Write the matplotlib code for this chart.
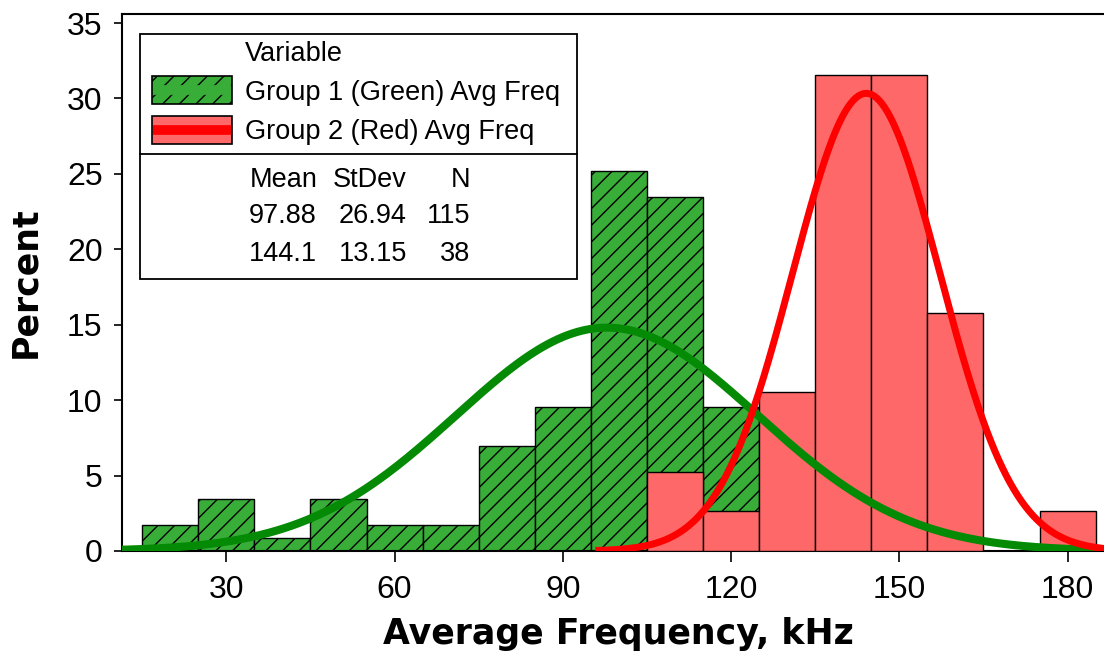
import numpy as np
import matplotlib
matplotlib.use('Agg')
import matplotlib.pyplot as plt
from matplotlib.patches import Rectangle
from matplotlib.lines import Line2D

# histogram bins (width 10 kHz), values in percent
bin_width = 10
green_left = [15, 25, 35, 45, 55, 65, 75, 85, 95, 105, 115]
green_pct = [1.74, 3.48, 0.87, 3.48, 1.74, 1.74, 6.96, 9.57, 25.22, 23.48, 9.57]
red_left = [105, 115, 125, 135, 145, 155, 175]
red_pct = [5.26, 2.63, 10.53, 31.58, 31.58, 15.79, 2.63]

# normal fit parameters
green_mean, green_sd, green_n = 97.88, 26.94, 115
red_mean, red_sd, red_n = 144.1, 13.15, 38

series_names = ['Group 1 (Green) Avg Freq', 'Group 2 (Red) Avg Freq']
x_ticks = [30, 60, 90, 120, 150, 180]
y_ticks = [0, 5, 10, 15, 20, 25, 30, 35]

green_face = '#38ae38'
red_face = '#ff6868'
green_line = '#058a05'
red_line = '#ff0000'

plt.rcParams['hatch.linewidth'] = 1.0
txt_font = ['Liberation Sans', 'DejaVu Sans']

fig = plt.figure(figsize=(11.04, 6.56), dpi=100)
ax = fig.add_axes([122/1104, 1 - 551/656, 1 - 122/1104, (551 - 14)/656])

ax.bar(green_left, green_pct, width=bin_width, align='edge', color=green_face,
       edgecolor='black', linewidth=1, hatch='//', zorder=2)
ax.bar(red_left, red_pct, width=bin_width, align='edge', color=red_face,
       edgecolor='black', linewidth=1, zorder=3)

def fit_pct(x, mu, sd):
    return 100 * bin_width * np.exp(-0.5 * ((x - mu) / sd) ** 2) / (sd * np.sqrt(2 * np.pi))

xmin, xmax = 11.4, 186.5
xg = np.linspace(xmin, xmax, 400)
ax.plot(xg, fit_pct(xg, green_mean, green_sd), color=green_line, linewidth=5.8,
        solid_capstyle='butt', zorder=4)
xr = np.linspace(95.8, xmax, 400)
ax.plot(xr, fit_pct(xr, red_mean, red_sd), color=red_line, linewidth=5,
        solid_capstyle='butt', zorder=5)

ax.set_xlim(xmin, xmax)
ax.set_ylim(0, 35.6)
ax.set_xticks(x_ticks)
ax.set_yticks(y_ticks)
ax.spines['right'].set_visible(False)
for s in ['left', 'bottom', 'top']:
    ax.spines[s].set_linewidth(1.5)
ax.tick_params(axis='x', direction='out', length=8, width=1.2, labelsize=23, pad=9)
ax.tick_params(axis='y', direction='out', length=6, width=1.2, labelsize=23, pad=8)
for lab in ax.get_xticklabels() + ax.get_yticklabels():
    lab.set_family(txt_font)

ax.set_xlabel('Average Frequency, kHz', fontsize=25, fontweight='bold')
ax.set_ylabel('Percent', fontsize=25, fontweight='bold')
ax.xaxis.set_label_coords(0.5056, -0.123)
ax.yaxis.set_label_coords(-0.0815, 0.5)

# legend box with fit statistics
tr = ax.transAxes
ax.add_patch(Rectangle((0.0183, 0.5056), 0.445, 0.4571, transform=tr, facecolor='white',
                       edgecolor='black', linewidth=1.3, zorder=10))
ax.add_line(Line2D([0.0183, 0.4633], [0.7388, 0.7388], transform=tr, color='black',
                   linewidth=1.3, zorder=11))
ax.add_patch(Rectangle((0.0305, 0.832), 0.0815, 0.052, transform=tr, facecolor=green_face,
                       edgecolor='black', linewidth=1.2, hatch='//', zorder=11))
ax.add_line(Line2D([0.0315, 0.111], [0.858, 0.858], transform=tr, color=green_face,
                   linewidth=7, solid_capstyle='butt', zorder=12))
ax.add_patch(Rectangle((0.0305, 0.757), 0.0815, 0.053, transform=tr, facecolor=red_face,
                       edgecolor='black', linewidth=1.2, zorder=11))
ax.add_line(Line2D([0.0315, 0.111], [0.7835, 0.7835], transform=tr, color=red_line,
                   linewidth=7, solid_capstyle='butt', zorder=12))

fs = 19.5
kw = dict(transform=tr, fontsize=fs, va='center', family=txt_font, zorder=12)
ax.text(0.1253, 0.926, 'Variable', **kw)
ax.text(0.1253, 0.852, series_names[0], **kw)
ax.text(0.1253, 0.7796, series_names[1], **kw)
rows_y = [0.6918, 0.6237, 0.5528]
ax.text(0.1303, rows_y[0], 'Mean', **kw)
ax.text(0.2902, rows_y[0], 'StDev', ha='right', **kw)
ax.text(0.3544, rows_y[0], 'N', ha='right', **kw)
for yy, m, sd, n in [(rows_y[1], green_mean, green_sd, green_n), (rows_y[2], red_mean, red_sd, red_n)]:
    ax.text(0.1293, yy, f'{m:g}', **kw)
    ax.text(0.2902, yy, f'{sd:.2f}', ha='right', **kw)
    ax.text(0.3544, yy, f'{n}', ha='right', **kw)

fig.savefig('out.png', dpi=100)
